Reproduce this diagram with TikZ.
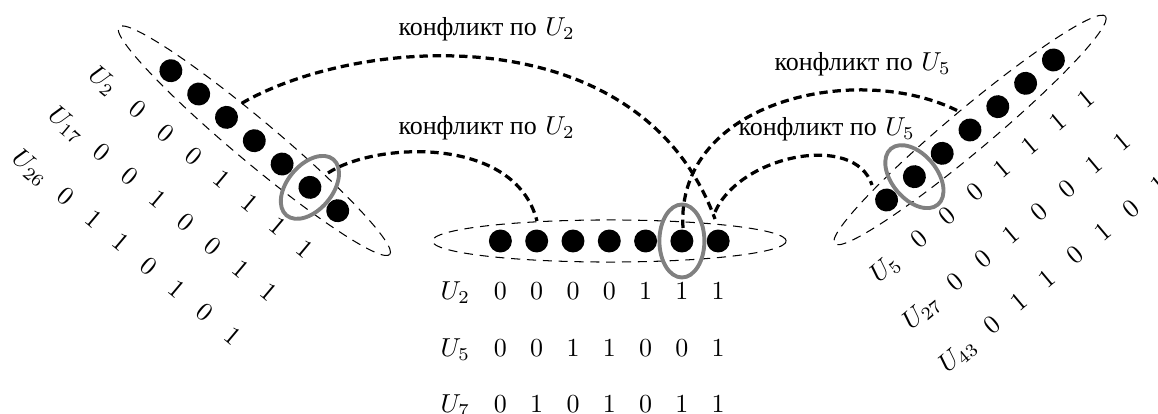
\documentclass[tikz,border=0pt]{standalone}
\usepackage{fontspec}
\newfontfamily\cyr{Liberation Serif}[Scale=1.0]
\begin{document}
\begin{tikzpicture}[x=0.385pt,y=-0.385pt,
  dot/.style={circle,fill=black,inner sep=0pt,minimum size=8.85pt},
  bit/.style={anchor=base,inner sep=0pt},
  grp/.style={draw,dash pattern=on 3.5pt off 2.6pt,line width=0.4pt},
  sel/.style={draw=gray,line width=1.5pt},
  conflict/.style={line width=1.25pt,dash pattern=on 3.2pt off 1.9pt},
  lbl/.style={anchor=base west,inner sep=0pt}]
\useasboundingbox (0,0) rectangle (1158,414);

% ---------- left group ----------
\begin{scope}[shift={(254.3,140.7)},rotate=-40,transform shape]
  \draw[grp] (0,0) ellipse [x radius=68.1pt, y radius=8.1pt];
  \foreach \i in {1,...,7} \node[dot] (L\i) at ({(\i-4)*36.3},0) {};
  \draw[sel] (L6.center) ellipse [x radius=8.66pt, y radius=14.05pt];
  \node[bit] (LrA) at (-154,59) {$U_2$};
  \foreach \b [count=\i] in {0,0,0,1,1,1,1} \node[bit] (LrA\i) at ({(\i-4)*36.3},59) {\b};
  \node[bit] (LrB) at (-154,115.5) {$U_{17}$};
  \foreach \b [count=\i] in {0,0,1,0,0,1,1} \node[bit] (LrB\i) at ({(\i-4)*36.3},115.5) {\b};
  \node[bit] (LrC) at (-154,172) {$U_{26}$};
  \foreach \b [count=\i] in {0,1,1,0,1,0,1} \node[bit] (LrC\i) at ({(\i-4)*36.3},172) {\b};
\end{scope}

% ---------- middle group ----------
\begin{scope}[shift={(609.3,241)}]
  \draw[grp] (0,0) ellipse [x radius=68.1pt, y radius=8.1pt];
  \foreach \i in {1,...,7} \node[dot] (M\i) at ({(\i-4)*36.3},0) {};
  \draw[sel] (M6.center) ellipse [x radius=8.66pt, y radius=14.05pt];
  \node[bit] (MrA) at (-154,59) {$U_2$};
  \foreach \b [count=\i] in {0,0,0,0,1,1,1} \node[bit] (MrA\i) at ({(\i-4)*36.3},59) {\b};
  \node[bit] (MrB) at (-154,115.5) {$U_5$};
  \foreach \b [count=\i] in {0,0,1,1,0,0,1} \node[bit] (MrB\i) at ({(\i-4)*36.3},115.5) {\b};
  \node[bit] (MrC) at (-154,171.5) {$U_7$};
  \foreach \b [count=\i] in {0,1,0,1,0,1,1} \node[bit] (MrC\i) at ({(\i-4)*36.3},171.5) {\b};
\end{scope}

% ---------- right group ----------
\begin{scope}[shift={(970,130)},rotate=40,transform shape]
  \draw[grp] (0,0) ellipse [x radius=68.1pt, y radius=8.1pt];
  \foreach \i in {1,...,7} \node[dot] (R\i) at ({(\i-4)*36.3},0) {};
  \draw[sel] (R2.center) ellipse [x radius=8.66pt, y radius=14.05pt];
  \node[bit] (RrA) at (-154,59) {$U_5$};
  \foreach \b [count=\i] in {0,0,0,1,1,1,1} \node[bit] (RrA\i) at ({(\i-4)*36.3},59) {\b};
  \node[bit] (RrB) at (-154,115.5) {$U_{27}$};
  \foreach \b [count=\i] in {0,0,1,0,0,1,1} \node[bit] (RrB\i) at ({(\i-4)*36.3},115.5) {\b};
  \node[bit] (RrC) at (-154,172) {$U_{43}$};
  \foreach \b [count=\i] in {0,1,1,0,1,0,1} \node[bit] (RrC\i) at ({(\i-4)*36.3},172) {\b};
\end{scope}

% ---------- conflict labels ----------
\node[lbl] (t1) at (398,36) {{\cyr конфликт по} $U_2$};
\node[lbl] (t2) at (398,135) {{\cyr конфликт по} $U_2$};
\node[lbl] (t3) at (774,71) {{\cyr конфликт по} $U_5$};
\node[lbl] (t4) at (738,136) {{\cyr конфликт по} $U_5$};

% ---------- conflict connectors ----------
\coordinate (a1) at (241.7,103.3); \coordinate (a2) at (715,219);
\coordinate (b1) at (328,173);     \coordinate (b2) at (537,221);
\coordinate (c1) at (683,228);     \coordinate (c2) at (960,112);
\coordinate (d1) at (715,212);     \coordinate (d2) at (872,185);
\draw[conflict] (a1) .. controls (360,35) and (640,15) .. (a2);
\draw[conflict] (b1) .. controls (375,142) and (515,135) .. (b2);
\draw[conflict] (c1) .. controls (675,100) and (860,60) .. (c2);
\draw[conflict] (d1) .. controls (740,155) and (855,132) .. (d2);
\end{tikzpicture}
\end{document}
